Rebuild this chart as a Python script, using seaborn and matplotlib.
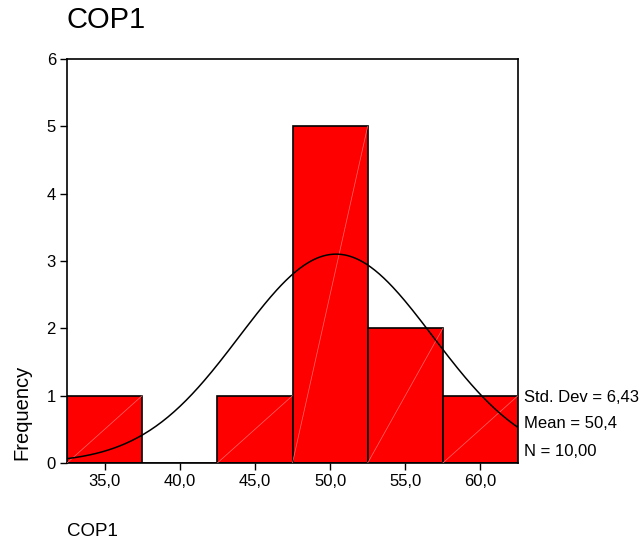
import numpy as np
import pandas as pd
import matplotlib
matplotlib.use("Agg")
import matplotlib.pyplot as plt
import seaborn as sns

# Data
bin_centers = [35.0, 40.0, 45.0, 50.0, 55.0, 60.0]
counts = [1, 0, 1, 5, 2, 1]
bin_width = 5.0
std_dev = 6.43
mean = 50.4
n_obs = 10
x_tick_values = [35.0, 40.0, 45.0, 50.0, 55.0, 60.0]
x_tick_labels = ["35,0", "40,0", "45,0", "50,0", "55,0", "60,0"]
y_tick_values = [0, 1, 2, 3, 4, 5, 6]

sns.set_style("white")
plt.rcParams["font.family"] = ["Liberation Sans", "DejaVu Sans"]
plt.rcParams["text.color"] = "black"
plt.rcParams["axes.labelcolor"] = "black"
plt.rcParams["xtick.color"] = "black"
plt.rcParams["ytick.color"] = "black"

fig = plt.figure(figsize=(6.42, 5.46), dpi=100)
ax = fig.add_axes([67 / 642, 1 - 463 / 546, (518 - 67) / 642, (463 - 59) / 546])

df = pd.DataFrame({"x": bin_centers, "count": counts})
edges = [c - bin_width / 2 for c in bin_centers] + [bin_centers[-1] + bin_width / 2]
sns.histplot(data=df, x="x", weights="count", bins=edges, ax=ax,
             color="#ff0000", edgecolor="black", linewidth=1.2, alpha=1.0)

# faint diagonal artifacts inside bars
for c, h in zip(bin_centers, counts):
    if h > 0:
        ax.plot([c - bin_width / 2, c + bin_width / 2], [0, h], color="#ff6a6a",
                linewidth=0.5, zorder=3)

# Normal curve from the stated statistics
xs = np.linspace(edges[0], edges[-1], 300)
ys = n_obs * bin_width / (std_dev * np.sqrt(2 * np.pi)) * np.exp(-0.5 * ((xs - mean) / std_dev) ** 2)
sns.lineplot(x=xs, y=ys, ax=ax, color="black", linewidth=1.1, zorder=4)

ax.set_xlim(edges[0], edges[-1])
ax.set_ylim(0, 6)
ax.set_xticks(x_tick_values)
ax.set_xticklabels(x_tick_labels)
ax.set_yticks(y_tick_values)
ax.set_yticklabels([str(v) for v in y_tick_values])
ax.tick_params(axis="both", direction="out", length=5, width=1, colors="black",
               labelsize=12, bottom=True, left=True, pad=3)
for s in ax.spines.values():
    s.set_visible(True)
    s.set_color("black")
    s.set_linewidth(1.2)

ax.set_xlabel("")
ax.set_ylabel("")

fig.text(67 / 642, 1 - 20 / 546, "COP1", fontsize=21, ha="left", va="center")
fig.text(67 / 642, 1 - 531 / 546, "COP1", fontsize=13.5, ha="left", va="center")
fig.text(22 / 642, 1 - 412 / 546, "Frequency", fontsize=14.5, rotation=90,
         ha="center", va="center")

stats = ["Std. Dev = 6,43", "Mean = 50,4", "N = 10,00"]
for i, t in enumerate(stats):
    fig.text(524 / 642, 1 - (397 + i * 27) / 546, t, fontsize=12,
             ha="left", va="center")

fig.savefig("out.png", dpi=100)
